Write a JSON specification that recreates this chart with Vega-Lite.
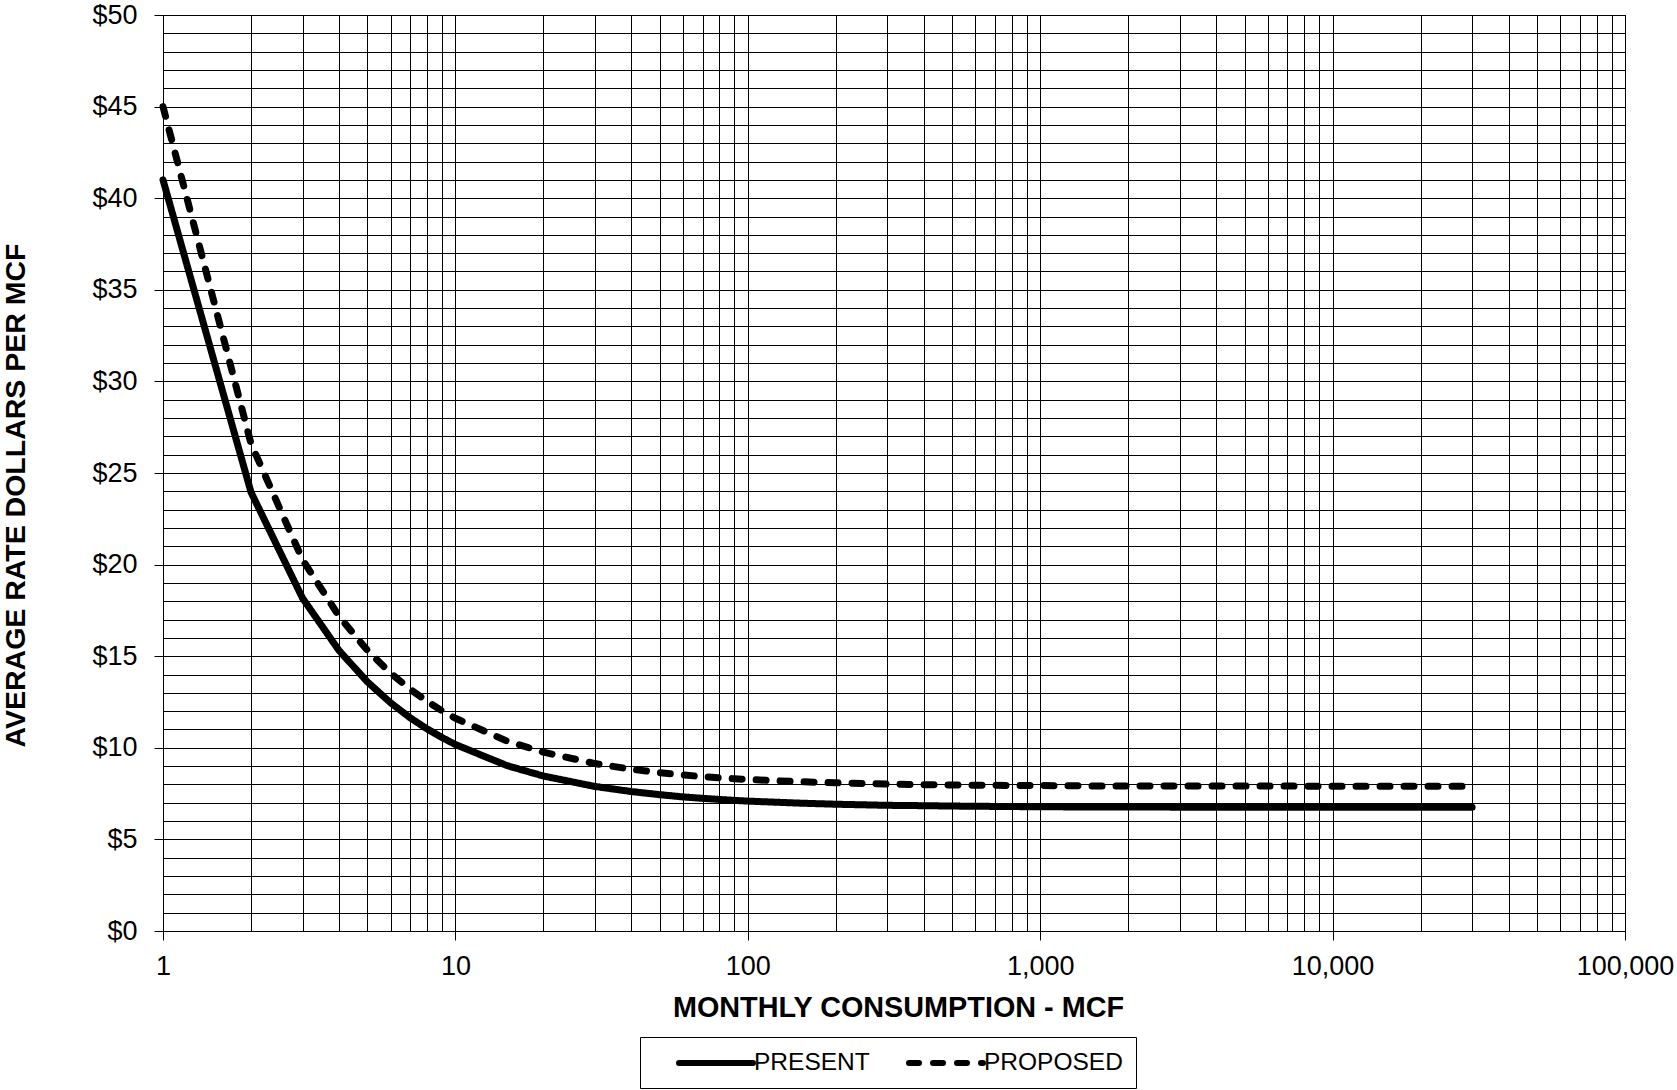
{
  "$schema": "https://vega.github.io/schema/vega-lite/v6.json",
  "width": 1462,
  "height": 916,
  "autosize": {"type": "none"},
  "padding": {"left": 163, "top": 15, "right": 52, "bottom": 159},
  "background": "white",
  "config": {"font": "Liberation Sans", "view": {"stroke": "#000", "strokeWidth": 1}},
  "data": {"values": [
    {"mcf": 1, "rate": 41.0, "series": "PRESENT"},
    {"mcf": 2, "rate": 23.95, "series": "PRESENT"},
    {"mcf": 3, "rate": 18.17, "series": "PRESENT"},
    {"mcf": 4, "rate": 15.31, "series": "PRESENT"},
    {"mcf": 5, "rate": 13.6, "series": "PRESENT"},
    {"mcf": 6, "rate": 12.46, "series": "PRESENT"},
    {"mcf": 7, "rate": 11.64, "series": "PRESENT"},
    {"mcf": 8, "rate": 11.03, "series": "PRESENT"},
    {"mcf": 9, "rate": 10.56, "series": "PRESENT"},
    {"mcf": 10, "rate": 10.18, "series": "PRESENT"},
    {"mcf": 15, "rate": 9.03, "series": "PRESENT"},
    {"mcf": 20, "rate": 8.46, "series": "PRESENT"},
    {"mcf": 30, "rate": 7.89, "series": "PRESENT"},
    {"mcf": 40, "rate": 7.61, "series": "PRESENT"},
    {"mcf": 50, "rate": 7.44, "series": "PRESENT"},
    {"mcf": 60, "rate": 7.32, "series": "PRESENT"},
    {"mcf": 70, "rate": 7.24, "series": "PRESENT"},
    {"mcf": 80, "rate": 7.18, "series": "PRESENT"},
    {"mcf": 90, "rate": 7.13, "series": "PRESENT"},
    {"mcf": 100, "rate": 7.09, "series": "PRESENT"},
    {"mcf": 150, "rate": 6.98, "series": "PRESENT"},
    {"mcf": 200, "rate": 6.92, "series": "PRESENT"},
    {"mcf": 300, "rate": 6.86, "series": "PRESENT"},
    {"mcf": 400, "rate": 6.84, "series": "PRESENT"},
    {"mcf": 500, "rate": 6.82, "series": "PRESENT"},
    {"mcf": 700, "rate": 6.8, "series": "PRESENT"},
    {"mcf": 1000, "rate": 6.78, "series": "PRESENT"},
    {"mcf": 1500, "rate": 6.77, "series": "PRESENT"},
    {"mcf": 2000, "rate": 6.77, "series": "PRESENT"},
    {"mcf": 3000, "rate": 6.76, "series": "PRESENT"},
    {"mcf": 5000, "rate": 6.76, "series": "PRESENT"},
    {"mcf": 7000, "rate": 6.75, "series": "PRESENT"},
    {"mcf": 10000, "rate": 6.75, "series": "PRESENT"},
    {"mcf": 15000, "rate": 6.75, "series": "PRESENT"},
    {"mcf": 20000, "rate": 6.75, "series": "PRESENT"},
    {"mcf": 30000, "rate": 6.75, "series": "PRESENT"},
    {"mcf": 1, "rate": 45.0, "series": "PROPOSED"},
    {"mcf": 2, "rate": 26.6, "series": "PROPOSED"},
    {"mcf": 3, "rate": 20.27, "series": "PROPOSED"},
    {"mcf": 4, "rate": 17.18, "series": "PROPOSED"},
    {"mcf": 5, "rate": 15.32, "series": "PROPOSED"},
    {"mcf": 6, "rate": 14.08, "series": "PROPOSED"},
    {"mcf": 7, "rate": 13.2, "series": "PROPOSED"},
    {"mcf": 8, "rate": 12.54, "series": "PROPOSED"},
    {"mcf": 9, "rate": 12.02, "series": "PROPOSED"},
    {"mcf": 10, "rate": 11.61, "series": "PROPOSED"},
    {"mcf": 15, "rate": 10.37, "series": "PROPOSED"},
    {"mcf": 20, "rate": 9.76, "series": "PROPOSED"},
    {"mcf": 30, "rate": 9.14, "series": "PROPOSED"},
    {"mcf": 40, "rate": 8.83, "series": "PROPOSED"},
    {"mcf": 50, "rate": 8.64, "series": "PROPOSED"},
    {"mcf": 60, "rate": 8.52, "series": "PROPOSED"},
    {"mcf": 70, "rate": 8.43, "series": "PROPOSED"},
    {"mcf": 80, "rate": 8.36, "series": "PROPOSED"},
    {"mcf": 90, "rate": 8.31, "series": "PROPOSED"},
    {"mcf": 100, "rate": 8.27, "series": "PROPOSED"},
    {"mcf": 150, "rate": 8.15, "series": "PROPOSED"},
    {"mcf": 200, "rate": 8.09, "series": "PROPOSED"},
    {"mcf": 300, "rate": 8.02, "series": "PROPOSED"},
    {"mcf": 400, "rate": 7.99, "series": "PROPOSED"},
    {"mcf": 500, "rate": 7.97, "series": "PROPOSED"},
    {"mcf": 700, "rate": 7.95, "series": "PROPOSED"},
    {"mcf": 1000, "rate": 7.94, "series": "PROPOSED"},
    {"mcf": 1500, "rate": 7.92, "series": "PROPOSED"},
    {"mcf": 2000, "rate": 7.92, "series": "PROPOSED"},
    {"mcf": 3000, "rate": 7.91, "series": "PROPOSED"},
    {"mcf": 5000, "rate": 7.91, "series": "PROPOSED"},
    {"mcf": 7000, "rate": 7.91, "series": "PROPOSED"},
    {"mcf": 10000, "rate": 7.9, "series": "PROPOSED"},
    {"mcf": 15000, "rate": 7.9, "series": "PROPOSED"},
    {"mcf": 20000, "rate": 7.9, "series": "PROPOSED"},
    {"mcf": 30000, "rate": 7.9, "series": "PROPOSED"}
  ]},
  "mark": {"type": "line", "color": "#000", "strokeWidth": 7, "strokeCap": "round", "strokeJoin": "round"},
  "encoding": {
    "x": {
      "field": "mcf", "type": "quantitative",
      "scale": {"type": "log", "domain": [1, 100000], "nice": false},
      "axis": {
        "title": "MONTHLY CONSUMPTION - MCF",
        "values": [1,2,3,4,5,6,7,8,9,10,20,30,40,50,60,70,80,90,100,200,300,400,500,600,700,800,900,1000,2000,3000,4000,5000,6000,7000,8000,9000,10000,20000,30000,40000,50000,60000,70000,80000,90000,100000],
        "labelExpr": "indexof([1,10,100,1000,10000,100000], datum.value) >= 0 ? format(datum.value, ',') : ''",
        "grid": true, "gridColor": "#000", "gridWidth": 1, "gridOpacity": 1,
        "domainColor": "#000", "domainWidth": 1,
        "tickColor": "#000", "tickSize": 9, "tickWidth": 1,
        "tickOpacity": {"condition": {"test": "indexof([1,10,100,1000,10000,100000], datum.value) >= 0", "value": 1}, "value": 0},
        "labelFontSize": 27, "labelColor": "#000", "labelPadding": 13,
        "labelFlush": false, "labelOverlap": false,
        "titleFontSize": 28.8, "titleFontWeight": "bold", "titleColor": "#000",
        "titleX": 735, "titleY": 85, "titleBaseline": "alphabetic", "titleAlign": "center"
      }
    },
    "y": {
      "field": "rate", "type": "quantitative",
      "scale": {"domain": [0, 50], "nice": false},
      "axis": {
        "title": "AVERAGE RATE DOLLARS PER MCF",
        "values": [0,1,2,3,4,5,6,7,8,9,10,11,12,13,14,15,16,17,18,19,20,21,22,23,24,25,26,27,28,29,30,31,32,33,34,35,36,37,38,39,40,41,42,43,44,45,46,47,48,49,50],
        "labelExpr": "datum.value % 5 === 0 ? '$' + datum.value : ''",
        "grid": true, "gridColor": "#000", "gridWidth": 1, "gridOpacity": 1,
        "domainColor": "#000", "domainWidth": 1,
        "tickColor": "#000", "tickSize": 9, "tickWidth": 1,
        "tickOpacity": {"condition": {"test": "datum.value % 5 === 0", "value": 1}, "value": 0},
        "labelFontSize": 27, "labelColor": "#000", "labelPadding": 17,
        "labelFlush": false, "labelOverlap": false,
        "titleFontSize": 28.5, "titleFontWeight": "bold", "titleColor": "#000",
        "titleAngle": 270, "titleX": -148, "titleY": 480, "titleBaseline": "middle", "titleAlign": "center"
      }
    },
    "strokeDash": {
      "field": "series", "type": "nominal",
      "scale": {"domain": ["PRESENT", "PROPOSED"], "range": [[1, 0], [10, 14]]},
      "legend": {
        "title": null, "orient": "none", "legendX": 477, "legendY": 1022,
        "direction": "horizontal", "strokeColor": "#000", "padding": 13,
        "symbolType": "M-3.7,0H3.7", "symbolSize": 400, "symbolStrokeWidth": 6,
        "symbolStrokeColor": "#000", "symbolOffset": 50,
        "labelFontSize": 24.5, "labelColor": "#000", "labelOffset": 25,
        "labelExpr": "datum.value == 'PROPOSED' ? datum.label + '\u00a0\u00a0\u2009' : datum.label",
        "columnPadding": 13,
        "encode": {"symbols": {"update": {"strokeCap": {"value": "round"}}}}
      }
    }
  }
}
